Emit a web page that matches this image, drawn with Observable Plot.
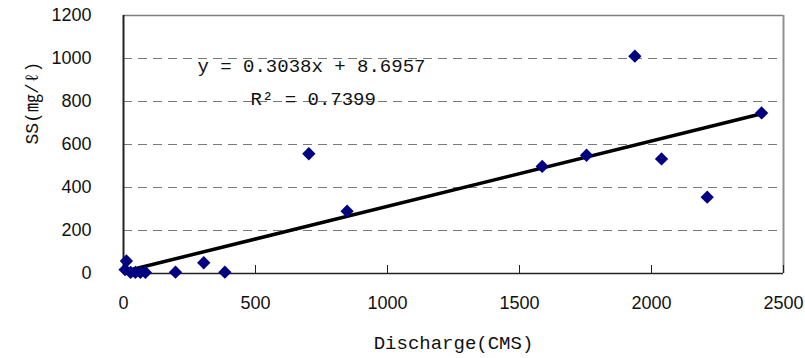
<!DOCTYPE html>
<html><head><meta charset="utf-8">
<script src="https://cdn.jsdelivr.net/npm/d3@7"></script>
<script src="https://cdn.jsdelivr.net/npm/@observablehq/plot@0.6"></script>
<style>body{margin:0;background:#fff} svg{display:block;background:#fff}</style>
</head><body><div id="chart"></div>
<script>
// Data
const discharge = [6, 11, 27, 45, 64, 83, 197, 304, 384, 702, 847, 1586, 1754, 1937, 2038, 2211, 2417];
const ss        = [18, 58, 5, 5, 5, 5, 6, 50, 6, 557, 290, 498, 550, 1011, 533, 355, 747];
const xTicks = [0, 500, 1000, 1500, 2000, 2500];
const yTicks = [0, 200, 400, 600, 800, 1000, 1200];
const gridValues = [200, 400, 600, 800, 1000];
const slope = 0.3038, intercept = 8.6957;
const equationText = "y = 0.3038x + 8.6957";
const r2Text = "R\u00B2 = 0.7399";
const xLabel = "Discharge(CMS)";
const yLabel = "SS(\u338E/\u2113)";

const points = discharge.map((d, i) => ({x: d, y: ss[i]}));
const xMin = d3.min(discharge), xMax = d3.max(discharge);
const trend = [xMin, xMax].map(x => ({x, y: slope * x + intercept}));
const xDomain = [xTicks[0], xTicks[xTicks.length - 1]];
const yDomain = [yTicks[0], yTicks[yTicks.length - 1]];

const monoFont = "'Liberation Mono', 'DejaVu Sans Mono', 'Noto Sans CJK KR', monospace";
const sansFont = "'Liberation Sans', Arial, sans-serif";

const chart = Plot.plot({
  width: 805, height: 358,
  marginLeft: 123, marginRight: 22, marginTop: 15, marginBottom: 85,
  style: {background: "#fff", color: "#000", fontFamily: sansFont, fontSize: "18px"},
  x: {domain: xDomain},
  y: {domain: yDomain},
  marks: [
    Plot.ruleY(gridValues, {stroke: "#7a7a7a", strokeDasharray: "9,6", strokeWidth: 1}),
    Plot.ruleY([yDomain[1]], {stroke: "#808080", strokeWidth: 1.5}),
    Plot.ruleX([xDomain[1]], {stroke: "#909090", strokeWidth: 2}),
    Plot.axisX({ticks: xTicks, tickSize: 8, dy: -8, tickFormat: () => "", label: null, stroke: "#222"}),
    Plot.axisX({ticks: xTicks, tickSize: 0, tickPadding: 23, tickFormat: "d", label: null, fontSize: 18, fontFamily: sansFont, fill: "#111"}),
    Plot.axisY({ticks: yTicks, tickSize: 0, tickPadding: 32, tickFormat: "d", label: null, fontSize: 18, fontFamily: sansFont, fill: "#111"}),
    Plot.ruleY([yDomain[0]], {stroke: "#222", strokeWidth: 1.5}),
    Plot.ruleX([xDomain[0]], {stroke: "#222", strokeWidth: 2}),
    Plot.line(trend, {x: "x", y: "y", stroke: "#000", strokeWidth: 3.5}),
    Plot.dot(points, {x: "x", y: "y", symbol: "diamond2", r: 6, fill: "#000080", stroke: "none"}),
    Plot.text([equationText], {x: 280, y: 967, text: d => d, textAnchor: "start", lineAnchor: "middle", fontFamily: monoFont, fontSize: 19, fill: "#111"}),
    Plot.text([r2Text], {x: 481, y: 814, text: d => d, textAnchor: "start", lineAnchor: "middle", fontFamily: monoFont, fontSize: 19, fill: "#111"}),
    Plot.text([xLabel], {frameAnchor: "bottom", dy: 69, text: d => d, lineAnchor: "middle", fontFamily: monoFont, fontSize: 19, fill: "#111"}),
    Plot.text([yLabel], {frameAnchor: "left", dx: -91, rotate: -90, text: d => d, lineAnchor: "middle", fontFamily: monoFont, fontSize: 18, fill: "#111"})
  ]
});
document.getElementById("chart").appendChild(chart);
</script>
</body></html>
